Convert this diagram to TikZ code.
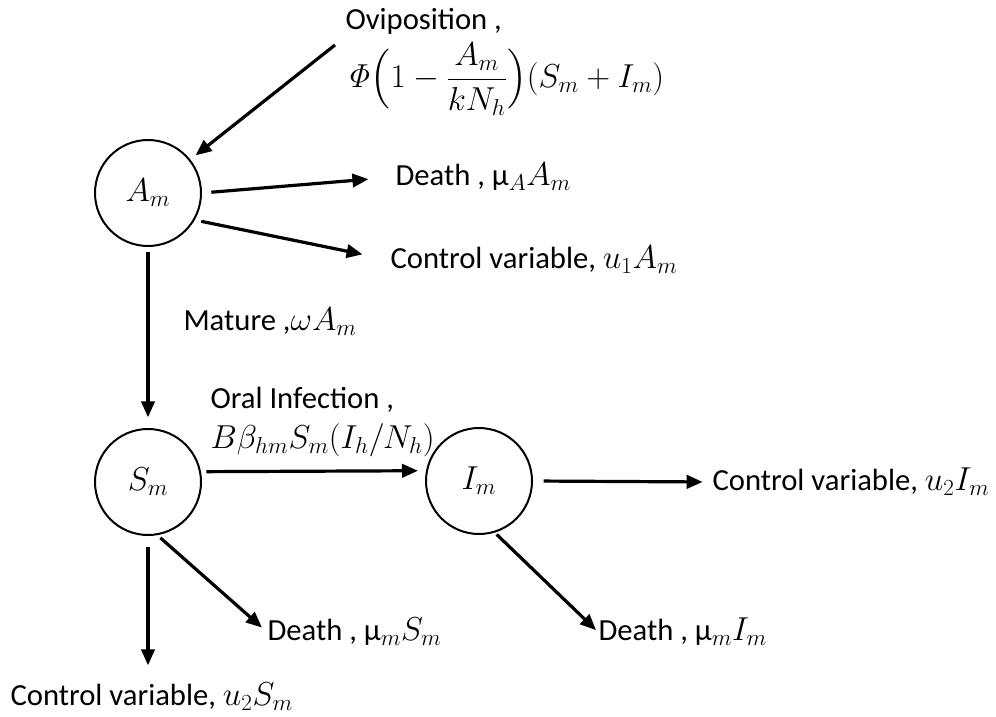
\documentclass[tikz,border=0pt]{standalone}
\usepackage{amsmath}
\usepackage[no-math]{fontspec}
\setmainfont{Carlito}
\usetikzlibrary{arrows.meta}

\tikzset{every picture/.style={line width=0.75pt}}
\tikzset{
  comp/.style={circle,draw,line width=1.5pt,minimum size=79.5pt,inner sep=0pt,font=\fontsize{23}{30}\selectfont},
  lbl/.style={anchor=west,inner sep=0pt,align=left,font=\fontsize{23}{30}\selectfont},
  flow/.style={line width=2.4pt,-{Triangle[length=12pt,width=10pt]}},
}

\begin{document}
\begin{tikzpicture}[x=0.75pt,y=0.75pt,yscale=-1,xscale=1]
\useasboundingbox (0,0) rectangle (996,717);

%Shape: Circle [Am]
\node[comp] (Am) at (148,193) {$A_m$};
%Shape: Circle [Sm]
\node[comp] (Sm) at (148,482) {$S_m$};
%Shape: Circle [Im]
\node[comp] (Im) at (479,481) {$I_m$};

% Text Node
\node[lbl,anchor=north west] (ovi) at (345,8) {Oviposition ,\\[5pt]$\mathit{\Phi}\Bigl(1-\dfrac{A_m}{kN_h}\Bigr)(S_m+I_m)$};
% Text Node
\node[lbl] (dA) at (395,177) {Death , μ$_A A_m$};
% Text Node
\node[lbl] (cA) at (390,260) {Control variable, $u_1A_m$};
% Text Node
\node[lbl] (mat) at (183,322) {Mature ,$\omega A_m$};
% Text Node
\node[lbl] (oral) at (210,422) {Oral Infection ,\\$B\beta_{hm}S_m(I_h/N_h)$};
% Text Node
\node[lbl] (cI) at (712,482) {Control variable, $u_2I_m$};
% Text Node
\node[lbl] (dI) at (598,632) {Death , μ$_m I_m$};
% Text Node
\node[lbl] (dS) at (267,632) {Death , μ$_m S_m$};
% Text Node
\node[lbl] (cS) at (10,697) {Control variable, $u_2S_m$};

\coordinate (oviIn) at (335,45);

%Straight Lines
\draw[flow,shorten >=5pt] (oviIn) -- (Am);
\draw[flow,shorten <=7pt,shorten >=20pt] (Am.0) -- (dA.west);
\draw[flow,shorten <=5pt,shorten >=21pt] (Am.-30) -- (cA.west);
\draw[flow,shorten <=4pt,shorten >=8pt] (Am.south) -- (Sm.north);
\draw[flow,shorten <=4pt,shorten >=6pt] (Sm.11) -- (Im.169);
\draw[flow,shorten <=8pt,shorten >=7pt] (Im.east) -- (cI.west);
\draw[flow,shorten <=2pt,shorten >=2pt] (Im.-73) -- (dI.west);
\draw[flow,shorten <=3pt,shorten >=5pt] (Sm.-80) -- (dS.west);
\draw[flow,shorten <=8pt,shorten >=13pt] (Sm.south) -- (Sm.south |- cS.north);

\end{tikzpicture}
\end{document}
